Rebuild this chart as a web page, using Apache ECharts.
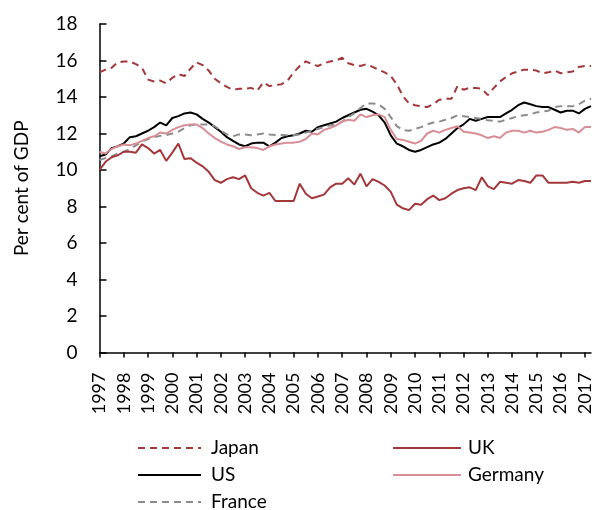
<!DOCTYPE html>
<html>
<head>
<meta charset="utf-8">
<script src="https://cdn.jsdelivr.net/npm/echarts@6/dist/echarts.min.js"></script>
<style>
html,body{margin:0;padding:0;background:#fff;}
#chart{width:595px;height:510px;}
</style>
</head>
<body>
<div id="chart"></div>
<script>
// Quarterly data, 1997 Q1 to 2017 Q2 (per cent of GDP)
const years = ['1997','1998','1999','2000','2001','2002','2003','2004','2005','2006','2007','2008','2009','2010','2011','2012','2013','2014','2015','2016','2017'];
const quarters = ['Q1','Q2','Q3','Q4'];
const categories = [];
years.forEach(y => quarters.forEach(q => categories.push(y + ' ' + q)));
categories.length = 82;

const yTicks = [0,2,4,6,8,10,12,14,16,18];

const japan = [15.35,15.5,15.6,15.9,15.95,15.95,15.8,15.6,14.95,14.85,14.9,14.75,15.05,15.25,15.15,15.55,
  15.9,15.75,15.45,15.0,14.75,14.55,14.4,14.45,14.45,14.5,14.35,14.8,14.6,14.65,14.7,14.9,
  15.35,15.7,15.95,15.8,15.7,15.85,15.95,16.0,16.15,15.85,15.75,15.7,15.8,15.65,15.5,15.35,
  15.15,14.7,14.05,13.65,13.55,13.5,13.45,13.6,13.85,13.9,13.9,14.6,14.4,14.5,14.5,14.45,
  14.1,14.5,14.85,15.1,15.3,15.4,15.5,15.5,15.45,15.3,15.35,15.45,15.3,15.35,15.4,15.65,15.7,15.7];

const uk = [10.0,10.45,10.7,10.8,11.0,11.0,10.95,11.4,11.2,10.9,11.1,10.5,10.95,11.45,10.6,10.65,
  10.4,10.2,9.9,9.45,9.3,9.5,9.6,9.5,9.7,9.0,8.75,8.6,8.75,8.3,8.3,8.3,
  8.3,9.25,8.7,8.45,8.55,8.65,9.05,9.25,9.25,9.55,9.2,9.8,9.1,9.5,9.35,9.15,
  8.8,8.1,7.9,7.8,8.15,8.1,8.4,8.6,8.35,8.45,8.7,8.9,9.0,9.05,8.9,9.6,
  9.1,8.95,9.35,9.3,9.25,9.45,9.4,9.3,9.7,9.7,9.3,9.3,9.3,9.3,9.35,9.3,9.4,9.4];

const us = [10.75,10.85,11.2,11.3,11.45,11.8,11.85,12.0,12.15,12.35,12.6,12.45,12.85,12.95,13.1,13.15,
  13.05,12.8,12.6,12.35,12.1,11.8,11.6,11.4,11.3,11.45,11.5,11.5,11.3,11.5,11.75,11.85,
  11.9,12.0,12.15,12.1,12.35,12.45,12.55,12.65,12.85,13.0,13.15,13.3,13.35,13.2,13.0,12.6,
  11.9,11.45,11.3,11.1,11.0,11.1,11.25,11.4,11.5,11.7,12.0,12.3,12.5,12.8,12.7,12.8,
  12.9,12.9,12.9,13.1,13.3,13.55,13.7,13.6,13.5,13.45,13.45,13.3,13.15,13.25,13.25,13.1,13.35,13.5];

const germany = [11.0,10.9,11.15,11.3,11.4,11.35,11.45,11.6,11.75,11.85,12.05,12.0,12.2,12.35,12.45,12.5,
  12.5,12.3,12.0,11.75,11.55,11.4,11.3,11.15,11.25,11.25,11.2,11.1,11.3,11.4,11.45,11.5,
  11.5,11.55,11.7,12.0,11.95,12.2,12.3,12.45,12.65,12.75,12.7,13.05,12.9,13.0,13.05,12.9,
  12.2,11.7,11.65,11.55,11.45,11.6,12.0,12.15,12.05,12.2,12.3,12.4,12.1,12.05,12.0,11.9,
  11.75,11.85,11.75,12.05,12.15,12.15,12.05,12.15,12.05,12.1,12.2,12.35,12.3,12.2,12.25,12.05,12.35,12.35];

const france = [10.55,10.65,10.75,10.9,11.0,11.15,11.35,11.55,11.7,11.8,11.87,11.92,12.0,12.1,12.3,12.45,
  12.5,12.5,12.5,12.4,12.15,11.95,11.85,11.95,11.95,11.9,11.95,12.0,11.95,11.92,11.92,11.9,
  11.92,11.95,12.05,12.15,12.25,12.35,12.45,12.5,12.65,12.9,13.1,13.4,13.65,13.65,13.6,13.35,
  12.9,12.4,12.2,12.15,12.25,12.35,12.5,12.6,12.65,12.75,12.85,13.0,12.95,12.9,12.85,12.8,
  12.72,12.7,12.65,12.75,12.85,12.95,13.0,13.05,13.15,13.2,13.25,13.45,13.5,13.5,13.5,13.6,13.8,13.9];

const FONT = 'Lato';
const red = '#a3373a';
const pink = '#d98e96';
const grey = '#8c8c8c';

const chart = echarts.init(document.getElementById('chart'), null, {renderer: 'canvas'});

function line(name, data, color, type, width) {
  return {
    name: name, type: 'line', data: data, symbol: 'none', smooth: false,
    lineStyle: {color: color, width: width || 2, type: type || 'solid'},
    itemStyle: {color: color},
    emphasis: {disabled: true}, animation: false
  };
}

function legendAt(name, left, top, width, pad) {
  return {
    orient: 'horizontal', left: left, top: top, itemWidth: width, itemHeight: 12,
    data: [name], selectedMode: false,
    itemStyle: {color: 'rgba(0,0,0,0)', borderColor: 'rgba(0,0,0,0)', opacity: 0},
    textStyle: {fontFamily: FONT, fontSize: 19, color: '#000', lineHeight: 20, padding: [0, 0, 0, pad]}
  };
}

chart.setOption({
  animation: false,
  grid: {left: 99.5, right: 4, top: 24, bottom: 157.5, containLabel: false},
  legend: [
    legendAt('Japan', 132, 433, 63, 5),
    legendAt('US', 132, 460, 63, 5),
    legendAt('France', 132, 487, 63, 5),
    legendAt('UK', 387, 433, 68, 2),
    legendAt('Germany', 387, 460, 68, 2)
  ],
  xAxis: {
    type: 'category', data: categories, boundaryGap: false,
    axisLine: {lineStyle: {color: '#000', width: 1.5}},
    axisTick: {show: true, interval: 3, length: 5, lineStyle: {color: '#000', width: 1.5}},
    axisLabel: {interval: 3, rotate: 90, margin: 20, fontFamily: FONT, fontSize: 18, color: '#000',
      formatter: v => v.slice(0, 4)},
    splitLine: {show: false}
  },
  yAxis: {
    type: 'value', min: yTicks[0], max: yTicks[yTicks.length - 1], interval: 2,
    name: 'Per cent of GDP', nameLocation: 'middle', nameGap: 68,
    nameTextStyle: {fontFamily: FONT, fontSize: 19, color: '#000'},
    axisLine: {show: true, lineStyle: {color: '#000', width: 1.5}},
    axisTick: {show: true, inside: true, length: 7, lineStyle: {color: '#000', width: 1.5}},
    axisLabel: {margin: 22, fontFamily: FONT, fontSize: 19, color: '#000'},
    splitLine: {show: false}
  },
  series: [
    line('Japan', japan, red, [7, 5], 2),
    line('US', us, '#000', 'solid', 2),
    line('France', france, grey, [7, 5], 2),
    line('UK', uk, red, 'solid', 2),
    line('Germany', germany, pink, 'solid', 2)
  ]
});
</script>
</body>
</html>
